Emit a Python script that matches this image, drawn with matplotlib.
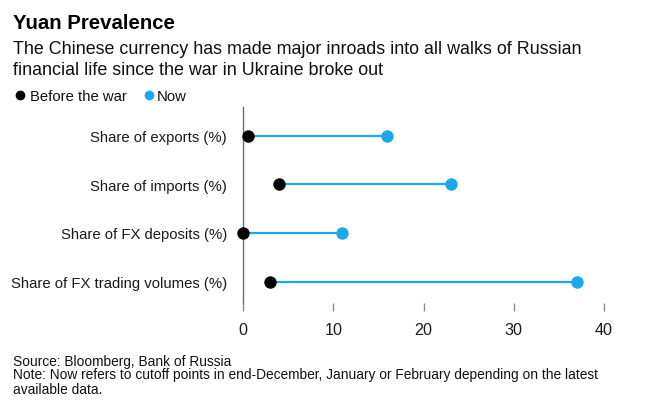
import matplotlib
matplotlib.use("Agg")
import matplotlib.pyplot as plt
from matplotlib.lines import Line2D

plt.rcParams['font.family'] = ['Liberation Sans', 'DejaVu Sans']

categories = ["Share of exports (%)", "Share of imports (%)",
              "Share of FX deposits (%)", "Share of FX trading volumes (%)"]
before = [0.5, 4.0, 0.0, 3.0]
now = [16.0, 23.0, 11.0, 37.0]
xticks = [0, 10, 20, 30, 40]

BLUE = '#1ba8f0'
BLACK = '#000000'
W, H = 660, 414

fig = plt.figure(figsize=(6.6, 4.14), dpi=100)
fig.patch.set_facecolor('white')

def fy(py):
    return 1 - py / H

def fx(px):
    return px / W

ax = fig.add_axes([fx(243), fy(304), (604 - 243) / W, (304 - 108) / H])
ypos = list(range(len(categories)))
for y, b, n in zip(ypos, before, now):
    ax.plot([b, n], [y, y], color=BLUE, lw=1.6, zorder=2, solid_capstyle='butt')
ax.scatter(now, ypos, s=80, color=BLUE, zorder=3, clip_on=False, linewidths=0)
ax.scatter(before, ypos, s=80, color=BLACK, zorder=4, clip_on=False, linewidths=0)

ax.set_xlim(0, 40)
ax.set_ylim(3.44, -0.59)
ax.set_xticks(xticks)
ax.set_xticklabels([str(t) for t in xticks])
ax.set_yticks(ypos)
ax.set_yticklabels(categories)
for s in ['top', 'right', 'bottom']:
    ax.spines[s].set_visible(False)
ax.spines['left'].set_color('#6e6e6e')
ax.spines['left'].set_linewidth(1.0)
ax.tick_params(axis='x', length=6, width=1.0, color='#8a8a8a', pad=7.5,
               labelsize=11.6, labelcolor='#1a1a1a')
ax.tick_params(axis='y', length=0, pad=11.5, labelsize=10.7, labelcolor='#1a1a1a')
ax.set_facecolor('none')

# Title and subtitle
fig.text(fx(13), fy(29.3), "Yuan Prevalence", fontsize=14.7, fontweight='bold',
         va='baseline', ha='left', color='#000000')
fig.text(fx(13), fy(54.3), "The Chinese currency has made major inroads into all walks of Russian",
         fontsize=12.9, va='baseline', ha='left', color='#111111')
fig.text(fx(13), fy(75), "financial life since the war in Ukraine broke out",
         fontsize=12.9, va='baseline', ha='left', color='#111111')

# Legend
fig.add_artist(Line2D([fx(19.5)], [fy(96)], marker='o', markersize=7, color=BLACK,
                      markeredgewidth=0, linestyle='none', transform=fig.transFigure))
fig.text(fx(30), fy(101), "Before the war", fontsize=10.7, va='baseline', ha='left',
         color='#111111')
fig.add_artist(Line2D([fx(149)], [fy(96)], marker='o', markersize=7, color=BLUE,
                      markeredgewidth=0, linestyle='none', transform=fig.transFigure))
fig.text(fx(156.5), fy(101), "Now", fontsize=10.7, va='baseline', ha='left',
         color='#111111')

# Footnotes
fig.text(fx(13), fy(365.7), "Source: Bloomberg, Bank of Russia", fontsize=9.9,
         va='baseline', ha='left', color='#111111')
fig.text(fx(13), fy(379.5),
         "Note: Now refers to cutoff points in end-December, January or February depending on the latest",
         fontsize=9.9, va='baseline', ha='left', color='#111111')
fig.text(fx(13), fy(394), "available data.", fontsize=9.9,
         va='baseline', ha='left', color='#111111')

fig.savefig("out.png", dpi=100, facecolor='white')
